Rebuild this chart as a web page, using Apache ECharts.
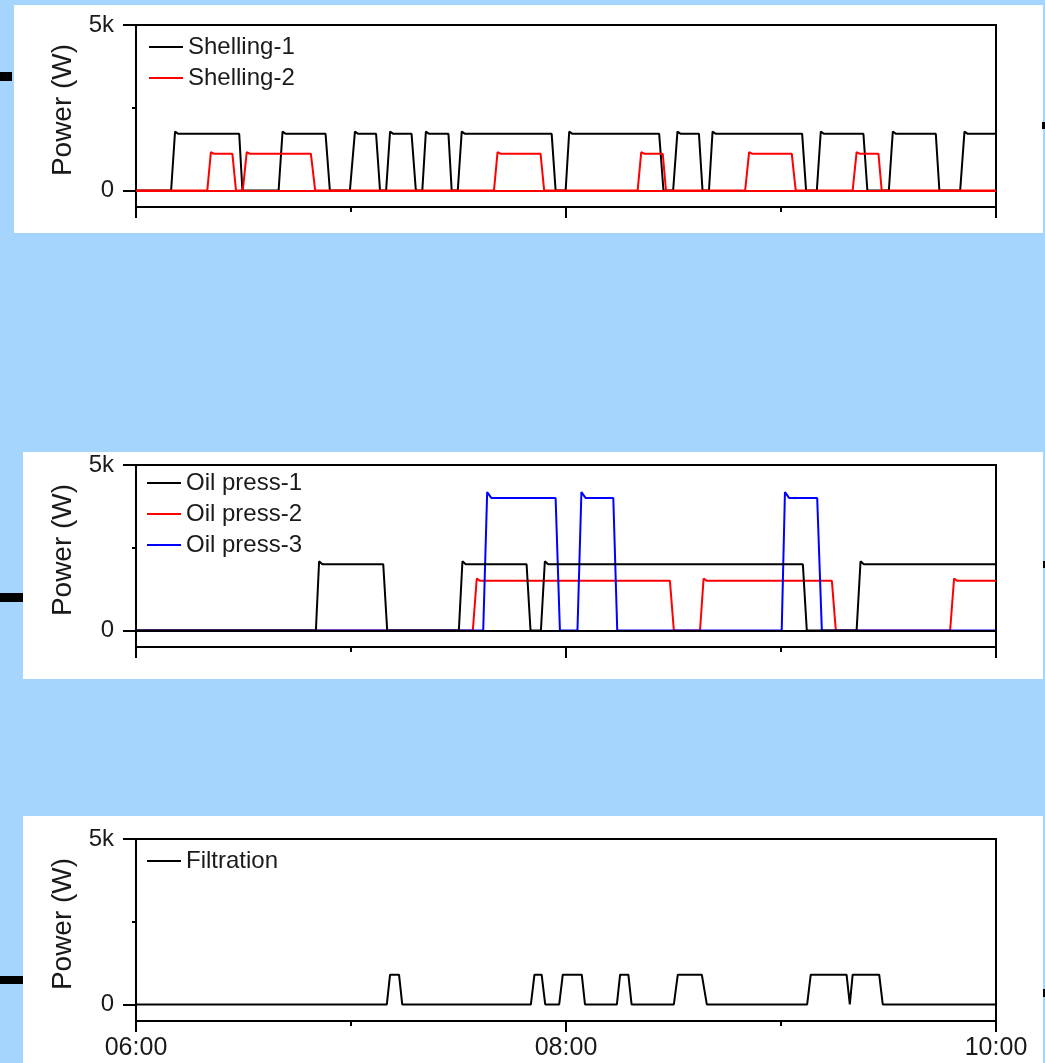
<!DOCTYPE html>
<html>
<head>
<meta charset="utf-8">
<script src="https://cdn.jsdelivr.net/npm/echarts@6/dist/echarts.min.js"></script>
<style>
  html, body { margin: 0; padding: 0; background: #a5d4fc; }
  #chart { width: 1045px; height: 1063px; }
</style>
</head>
<body>
<div id="chart"></div>
<script>
// time in minutes after 06:00, power in W
const xTickValues = [0, 120, 240];
const xMinorTickValues = [60, 180];
const xTickLabels = ['06:00', '08:00', '10:00'];
const yTickValues = [0, 5000];
const yTickLabels = ['0', '5k'];
const yMinorTickValues = [2500];
const baselineValue = 0;

const shelling1 = [[0,0],
  [9.8,0],[10.9,1780],[11.8,1710],[28.8,1710],[29.7,0],
  [39.8,0],[40.9,1780],[41.8,1710],[52.9,1710],[54.1,0],
  [59.7,0],[61.1,1780],[62.0,1710],[67.0,1710],[68.1,0],
  [69.8,0],[70.9,1780],[71.8,1710],[76.9,1710],[78.1,0],
  [79.9,0],[80.9,1780],[81.8,1710],[87.2,1710],[88.1,0],
  [89.8,0],[90.9,1780],[91.8,1710],[116.0,1710],[117.1,0],
  [119.9,0],[120.9,1780],[121.8,1710],[146.0,1710],[147.2,0],
  [149.9,0],[151.1,1780],[152.0,1710],[157.1,1710],[158.1,0],
  [159.9,0],[160.9,1780],[161.8,1710],[185.9,1710],[187.0,0],
  [190.0,0],[191.1,1780],[192.0,1710],[203.0,1710],[204.1,0],
  [210.1,0],[211.2,1780],[212.1,1710],[223.2,1710],[224.2,0],
  [230.0,0],[231.2,1780],[232.1,1710],[240,1710]];

const shelling2 = [[0,0],
  [19.9,0],[20.9,1160],[21.7,1110],[26.9,1110],[27.9,0],
  [29.8,0],[30.9,1160],[31.7,1110],[48.8,1110],[50.0,0],
  [99.9,0],[100.9,1160],[101.7,1110],[112.9,1110],[113.9,0],
  [140.0,0],[141.0,1160],[141.8,1110],[147.0,1110],[147.9,0],
  [170.0,0],[171.1,1160],[171.9,1110],[183.0,1110],[184.1,0],
  [200.0,0],[201.1,1160],[201.9,1110],[207.2,1110],[208.1,0],
  [240,0]];

const oilPress1 = [[0,0],
  [50.2,0],[51.1,2090],[52.0,2000],[69.0,2000],[70.1,0],
  [90.1,0],[91.1,2090],[92.0,2000],[109.0,2000],[110.1,0],
  [113.0,0],[114.1,2090],[115.0,2000],[186.1,2000],[187.2,0],
  [201.1,0],[202.2,2090],[203.1,2000],[240,2000]];

const oilPress2 = [[0,0],
  [94.0,0],[95.1,1570],[96.0,1500],[149.0,1500],[150.1,0],
  [157.4,0],[158.4,1570],[159.3,1500],[194.2,1500],[195.3,0],
  [227.2,0],[228.3,1570],[229.2,1500],[240,1500]];

const oilPress3 = [[0,0],
  [96.9,0],[98.0,4180],[99.2,4000],[117.1,4000],[118.3,0],
  [123.2,0],[124.3,4180],[125.5,4000],[133.2,4000],[134.3,0],
  [180.2,0],[181.1,4180],[182.3,4000],[190.1,4000],[191.4,0],
  [240,0]];

const filtration = [[0,0],
  [70.0,0],[70.9,900],[73.4,900],[74.3,0],
  [110.2,0],[111.2,900],[113.2,900],[114.2,0],
  [118.1,0],[119.1,900],[124.4,900],[125.3,0],
  [134.2,0],[135.1,900],[137.4,900],[138.3,0],
  [150.1,0],[151.2,900],[157.9,900],[159.3,0],
  [187.3,0],[188.3,900],[198.3,900],[199.2,0],[200.0,900],[207.4,900],[208.4,0],
  [240,0]];

const FONT = "'Liberation Sans', Arial, Helvetica, sans-serif";
const TXT = '#1a1a1a';
const gridTops = [25, 465, 839];
const legendTops = [32, 468, 846];
const legendLefts = [149, 147, 147];

const grids = [], xAxes = [], yAxes = [], legends = [];
gridTops.forEach((t, i) => {
  grids.push({ left: 136, right: 49, top: t, height: 182, show: true,
    borderColor: '#000', borderWidth: 2, backgroundColor: 'transparent' });
  xAxes.push({ type: 'value', gridIndex: i, min: 0, max: 240, interval: 60, position: 'bottom',
    axisLine: { show: true, onZero: false, lineStyle: { color: '#000', width: 2 } },
    axisTick: { show: true, customValues: xTickValues, length: 11, lineStyle: { color: '#000', width: 2 } },
    axisLabel: { show: i === 2, customValues: xTickValues, margin: 15,
      formatter: v => xTickLabels[xTickValues.indexOf(v)] || '',
      color: TXT, fontSize: 25, fontFamily: FONT },
    splitLine: { show: false } });
  xAxes.push({ type: 'value', gridIndex: i, min: 0, max: 240, interval: 60, position: 'bottom',
    axisLine: { show: false, onZero: false },
    axisTick: { show: true, customValues: xMinorTickValues, length: 5, lineStyle: { color: '#000', width: 2 } },
    axisLabel: { show: false }, splitLine: { show: false } });
  yAxes.push({ type: 'value', gridIndex: i, min: -500, max: 5000, interval: 500, position: 'left',
    name: 'Power (W)', nameLocation: 'middle', nameGap: 58,
    nameTextStyle: { color: TXT, fontSize: 28, fontFamily: FONT, padding: [0, 0, 0, 12] },
    axisLine: { show: true, onZero: false, lineStyle: { color: '#000', width: 2 } },
    axisTick: { show: true, customValues: yTickValues, length: 13, lineStyle: { color: '#000', width: 2 } },
    axisLabel: { customValues: yTickValues, margin: 22,
      formatter: v => yTickLabels[yTickValues.indexOf(v)] || '',
      color: TXT, fontSize: 24, fontFamily: FONT },
    splitLine: { show: false } });
  yAxes.push({ type: 'value', gridIndex: i, min: -500, max: 5000, interval: 500, position: 'left',
    axisLine: { show: false, onZero: false },
    axisTick: { show: true, customValues: yMinorTickValues, length: 4, lineStyle: { color: '#000', width: 2 } },
    axisLabel: { show: false }, splitLine: { show: false } });
});

const panelNames = [['Shelling-1', 'Shelling-2'], ['Oil press-1', 'Oil press-2', 'Oil press-3'], ['Filtration']];
panelNames.forEach((names, i) => {
  legends.push({ data: names, orient: 'vertical', left: legendLefts[i], top: legendTops[i],
    padding: 0, itemGap: 1, itemWidth: 34, itemHeight: 2, icon: 'rect',
    textStyle: { color: TXT, fontSize: 24, fontFamily: FONT, lineHeight: 30 } });
});

function line(name, data, color, panel, z, baseline) {
  const s = { name, type: 'line', data, xAxisIndex: panel * 2, yAxisIndex: panel * 2,
    showSymbol: false, symbol: 'none', z,
    lineStyle: { color, width: 2 }, itemStyle: { color }, animation: false };
  if (baseline) {
    s.markLine = { silent: true, symbol: 'none', label: { show: false },
      lineStyle: { color, width: 2, type: 'solid' }, data: [{ yAxis: baselineValue }] };
  }
  return s;
}

const bgRects = [
  [14, 5, 1029, 228], [23, 452, 1020, 227], [23, 816, 1020, 247]
].map(r => ({ type: 'rect', z: -100, shape: { x: r[0], y: r[1], width: r[2], height: r[3] }, style: { fill: '#fff' } }));
const marks = [
  [0, 72, 12, 9], [0, 593, 23, 9], [0, 976, 23, 8],
  [1042, 122, 3, 7], [1043, 561, 2, 7], [1043, 989, 2, 8]
].map(r => ({ type: 'rect', z: -90, shape: { x: r[0], y: r[1], width: r[2], height: r[3] }, style: { fill: '#000' } }));

const chart = echarts.init(document.getElementById('chart'), null, { renderer: 'canvas' });
chart.setOption({
  backgroundColor: '#a5d4fc',
  animation: false,
  graphic: bgRects.concat(marks),
  grid: grids, xAxis: xAxes, yAxis: yAxes, legend: legends,
  series: [
    line('Shelling-1', shelling1, '#000000', 0, 2, false),
    line('Shelling-2', shelling2, '#ff0000', 0, 3, true),
    line('Oil press-2', oilPress2, '#ff0000', 1, 2, false),
    line('Oil press-3', oilPress3, '#0000ff', 1, 3, false),
    line('Oil press-1', oilPress1, '#000000', 1, 4, true),
    line('Filtration', filtration, '#000000', 2, 2, false)
  ]
});
</script>
</body>
</html>
